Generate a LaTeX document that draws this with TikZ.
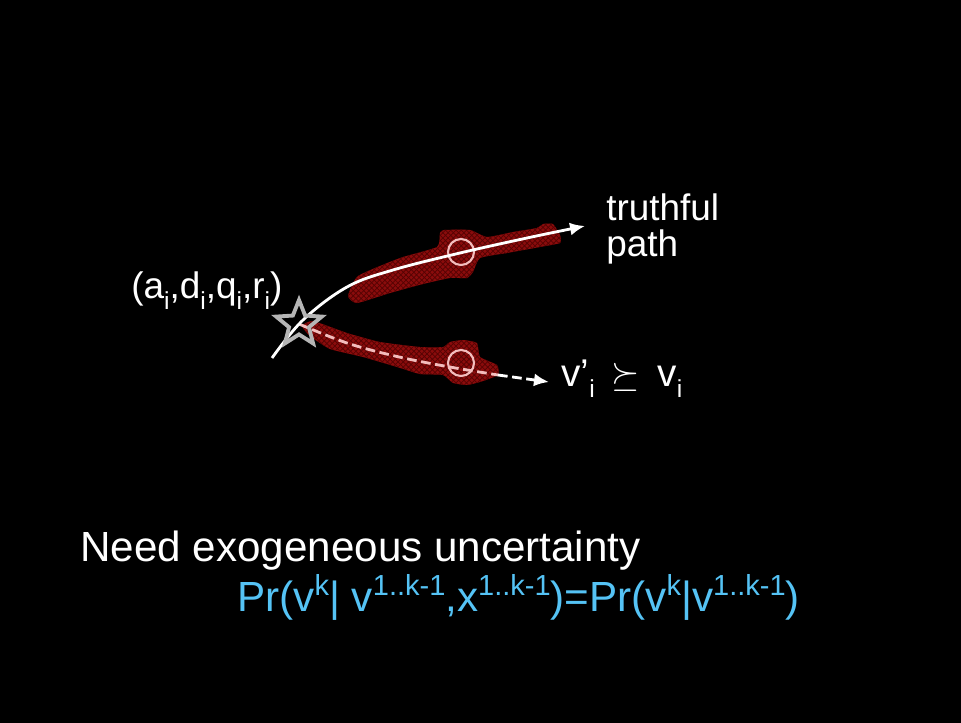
\documentclass[tikz,border=0pt]{standalone}
\usepackage{fontspec}
\setmainfont{Liberation Sans}
\usepackage{tikz}
\usetikzlibrary{arrows.meta,shapes.geometric,patterns}
\definecolor{SlideRed}{HTML}{8A0C0C}
\definecolor{SlideDarkRed}{HTML}{560303}
\definecolor{SlidePink}{HTML}{F3BDBD}
\definecolor{SlideGray}{HTML}{B5B5B5}
\definecolor{SlideBlue}{HTML}{55C3F5}
\newcommand{\lowidx}[1]{\raisebox{-0.3em}{\fontsize{14}{14}\selectfont #1}}
\newcommand{\highidx}[1]{\raisebox{0.36em}{\fontsize{16.5}{16.5}\selectfont #1}}
\tikzset{
  blot/.style={fill=SlideRed, postaction={pattern=crosshatch, pattern color=SlideDarkRed}},
  ring/.style={circle, draw=SlidePink, line width=1.2pt, minimum size=5.2mm, inner sep=0pt},
  startstar/.style={star, star points=5, star point ratio=2.3, draw=SlideGray,
    line width=2.2pt, minimum size=9.6mm, inner sep=0pt},
  wire/.style={-{Latex[length=3mm, width=2.6mm]}, line width=1.6pt, draw=white},
  dashwire/.style={wire, dash pattern=on 5.5pt off 2.6pt},
  slidetext/.style={text=white, inner sep=0pt, anchor=base west, align=left,
    font=\fontsize{21}{20}\selectfont},
  headline/.style={slidetext, font=\fontsize{24}{28}\selectfont},
  formula/.style={headline, text=SlideBlue}
}
\begin{document}
\begin{tikzpicture}[x=0.02cm, y=-0.02cm]
  \fill[black] (0,0) rectangle (961,723);
  \useasboundingbox (0,0) rectangle (961,723);
  \coordinate (origin) at (299,324);
  \coordinate (tailA) at (272,358);
  \coordinate (tipA) at (585,226);
  \coordinate (bandend) at (498,375);
  \coordinate (tipB) at (549,382);
  \fill[blot] plot[smooth cycle, tension=.3] coordinates {(348,296) (358,276) (400,258)
    (437,247) (440,233) (444,230) (470,230) (487,237) (513,232) (537,228) (543,224)
    (553,224) (560,235) (560,243) (540,247) (507,253) (480,258) (473,272) (467,278)
    (450,278) (423,284) (390,293) (357,303)};
  \fill[blot] plot[smooth cycle, tension=.3] coordinates {(302,326) (313,321) (347,333)
    (380,342) (420,347) (443,347) (450,342) (463,340) (477,343) (480,357) (497,365)
    (498,375) (480,382) (467,385) (453,383) (443,375) (420,374) (397,367) (363,357)
    (330,349) (310,336)};
  \node[ring] (upper) at (461,252) {};
  \node[ring] (lower) at (461,363) {};
  \draw[dashwire, draw=SlidePink, -] plot[smooth, tension=.6] coordinates {(origin)
    (347,343) (397,356.5) (447,366.5) (bandend)};
  \draw[dashwire] (bandend) -- (tipB);
  \draw[wire] plot[smooth, tension=.6] coordinates {(tailA) (303,320) (347,287)
    (393,270) (460,253) (527,238) (tipA)};
  \node[startstar] (star) at (origin) {};
  \node[slidetext] (tuple) at (131,298) {(a\lowidx{i},d\lowidx{i},q\lowidx{i},r\lowidx{i})};
  \node[slidetext] (truthful) at (606,256) {truthful\\path};
  \node[slidetext, font=\fontsize{22}{22}\selectfont] (weaker) at (561,386)
    {v’\lowidx{i}\, $\succeq$\, v\lowidx{i}};
  \node[headline] (need) at (80,561) {Need exogeneous uncertainty};
  \node[formula] (prob) at (237,611) {Pr(v\highidx{k}| v\highidx{1..k-1},x\highidx{1..k-1})=Pr(v\highidx{k}|v\highidx{1..k-1})};
\end{tikzpicture}
\end{document}
